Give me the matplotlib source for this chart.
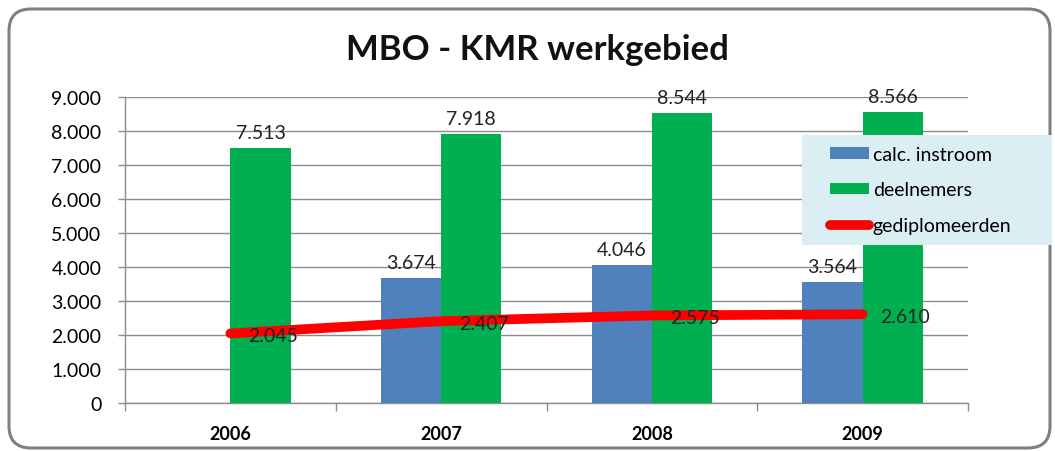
import numpy as np
import matplotlib
matplotlib.use("Agg")
import matplotlib.pyplot as plt
from matplotlib.patches import FancyBboxPatch, Patch, Rectangle
from matplotlib.lines import Line2D
from matplotlib.transforms import IdentityTransform
from matplotlib.ticker import FuncFormatter, FixedLocator

years = ["2006", "2007", "2008", "2009"]
calc_instroom = [np.nan, 3674, 4046, 3564]
deelnemers = [7513, 7918, 8544, 8566]
gediplomeerden = [2045, 2407, 2575, 2610]

title = "MBO - KMR werkgebied"
legend_labels = ["calc. instroom", "deelnemers", "gediplomeerden"]

BLUE = "#4F81BD"
GREEN = "#00B050"
RED = "#FF0000"
FONT = "Lato"

def fmt(v):
    return f"{v:,.0f}".replace(",", ".")

plt.rcParams["font.family"] = [FONT, "DejaVu Sans"]

fig = plt.figure(figsize=(10.55, 4.52), dpi=100)
fig.patch.set_facecolor("white")

# outer rounded frame (pixel coordinates)
frame = FancyBboxPatch((9, 3), 1041, 439,
                       boxstyle="round,pad=0,rounding_size=22",
                       transform=IdentityTransform(),
                       facecolor="white", edgecolor="#808080", linewidth=2.2,
                       zorder=0)
fig.add_artist(frame)

ax = fig.add_axes([125/1055, 1-404/452, (968-125)/1055, (404-98)/452])
ax.set_facecolor("none")

x = np.arange(len(years))
w = 0.286
ax.bar(x - w/2, calc_instroom, width=w, color=BLUE, zorder=3)
ax.bar(x + w/2, deelnemers, width=w, color=GREEN, zorder=3)
ax.plot(x, gediplomeerden, color=RED, lw=7, solid_capstyle="round", zorder=4)

for xi, v in zip(x, calc_instroom):
    if not np.isnan(v):
        ax.annotate(fmt(v), (xi - w/2, v), xytext=(0, 7), textcoords="offset pixels",
                    ha="center", va="bottom", fontsize=14, color="#222222", zorder=5)
for xi, v in zip(x, deelnemers):
    ax.annotate(fmt(v), (xi + w/2, v), xytext=(0, 7), textcoords="offset pixels",
                ha="center", va="bottom", fontsize=14, color="#222222", zorder=5)
for xi, v in zip(x, gediplomeerden):
    ax.annotate(fmt(v), (xi, v), xytext=(18, -2), textcoords="offset pixels",
                ha="left", va="center", fontsize=14, color="#222222", zorder=5)

ax.set_xlim(-0.5, len(years) - 0.5)
ax.set_ylim(0, 9000)
ax.set_yticks(np.arange(0, 9001, 1000))
ax.yaxis.set_major_formatter(FuncFormatter(lambda v, p: fmt(v)))
ax.grid(axis="y", color="#8c8c8c", linewidth=1.0, zorder=0)
ax.set_axisbelow(True)

ax.set_xticks(x)
ax.set_xticklabels(years, fontsize=13, fontweight="bold")
ax.xaxis.set_minor_locator(FixedLocator(np.arange(-0.5, len(years), 1.0)))
ax.tick_params(axis="x", which="major", length=0, pad=16)
ax.tick_params(axis="x", which="minor", length=6, color="#8c8c8c", width=1)
ax.tick_params(axis="y", length=5, color="#8c8c8c", width=1, labelsize=14, pad=12)

for s in ["top", "right"]:
    ax.spines[s].set_visible(False)
for s in ["left", "bottom"]:
    ax.spines[s].set_color("#8c8c8c")
    ax.spines[s].set_linewidth(1)

fig.text(537/1055, 1-50/452, title, ha="center", va="center",
         fontsize=25, fontweight="bold", color="#111111")

# legend background box
legbg = Rectangle((802/1055, 1-246/452), 250/1055, 110/452,
                  transform=fig.transFigure, facecolor="#DBEEF4",
                  edgecolor="none", zorder=8)
fig.add_artist(legbg)

handles = [Patch(facecolor=BLUE), Patch(facecolor=GREEN),
           Line2D([0], [0], color=RED, lw=7, solid_capstyle="round")]
leg = fig.legend(handles, legend_labels, loc="center left",
                 bbox_to_anchor=(830/1055, 1-191/452),
                 frameon=False, fontsize=14,
                 handlelength=2.0, handleheight=0.55, handletextpad=0.2,
                 labelspacing=0.95, borderpad=0.0, borderaxespad=0)
leg.set_zorder(10)

fig.savefig("out.png", dpi=100, facecolor="white")
